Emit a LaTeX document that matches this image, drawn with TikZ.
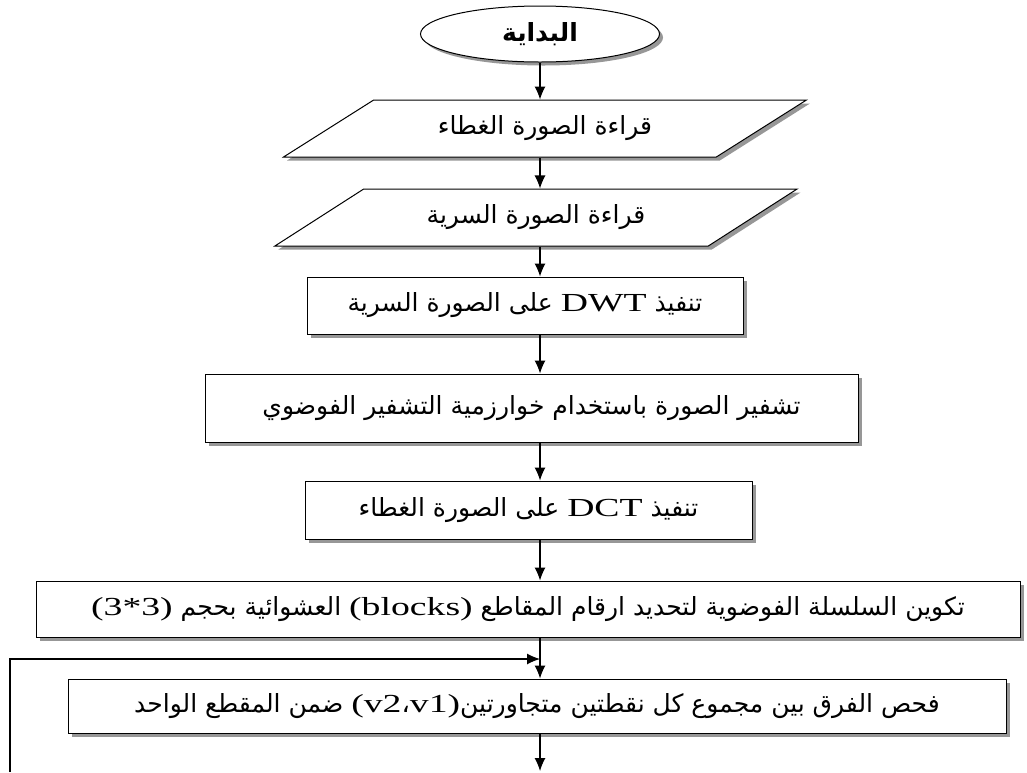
\documentclass[tikz,border=0pt]{standalone}
\usepackage{fontspec}
\setmainfont{Liberation Serif}
\newfontfamily\arabicfont[Script=Arabic]{DejaVu Sans}
\newfontfamily\latinfont[FakeStretch=1.45]{Liberation Serif}
\TeXXeTstate=1
\usepackage{tikz}
\usetikzlibrary{shapes.geometric, arrows.meta, shadows, positioning}
\newcommand{\artxt}[1]{{\arabicfont\beginR #1\endR}}
\newcommand{\lat}[1]{\beginL{\latinfont\fontsize{26}{30}\selectfont #1}\endL}
\tikzstyle{shadowed} = [drop shadow={shadow xshift=3.5pt,shadow yshift=-3.5pt,fill=black!45,opacity=0.9}]
\tikzstyle{startstop} = [ellipse, draw, fill=white, line width=1pt, minimum width=239pt, minimum height=56pt, inner sep=0pt, shadowed]
\tikzstyle{io} = [trapezium, trapezium left angle=24, trapezium right angle=156, trapezium stretches=true, draw, fill=white, line width=1pt, minimum width=524pt, minimum height=57pt, inner sep=0pt, shadowed]
\tikzstyle{process} = [rectangle, draw, fill=white, line width=1pt, inner sep=0pt, shadowed]
\tikzstyle{arrow} = [line width=1.1pt,-{Latex[length=13pt,width=11pt]}]

\begin{document}
\begin{tikzpicture}[x=1pt, y=-1pt, font=\fontsize{25}{30}\selectfont]
\useasboundingbox (0,0) rectangle (1027,772);
\node [startstop] (start) at (540,34) {\artxt{\bfseries البداية}};
\node [io] (cover) at (545,128.5) {\artxt{قراءة الصورة الغطاء}};
\node [io] (secret) at (536,217.5) {\artxt{قراءة الصورة السرية}};
\node [process, minimum width=436pt, minimum height=57pt] (dwt) at (525,305.5) {\artxt{تنفيذ \lat{DWT} على الصورة السرية}};
\node [process, minimum width=653pt, minimum height=68pt] (chaos) at (531.5,408) {\artxt{تشفير الصورة باستخدام خوارزمية التشفير الفوضوي}};
\node [process, minimum width=447pt, minimum height=58pt] (dct) at (528.5,510) {\artxt{تنفيذ \lat{DCT} على الصورة الغطاء}};
\node [process, minimum width=984pt, minimum height=56pt] (blocks) at (528,609) {\artxt{تكوين السلسلة الفوضوية لتحديد ارقام المقاطع \lat{(blocks)} العشوائية بحجم \lat{(3*3)}}};
\node [process, minimum width=938pt, minimum height=54pt] (check) at (537,706) {\artxt{فحص الفرق بين مجموع كل نقطتين متجاورتين\lat{(v2{\arabicfont ،}v1)} ضمن المقطع الواحد}};
\coordinate (spine) at (540,0);
\coordinate (join) at (540,659);
\coordinate (loopbot) at (10,772);
\coordinate (exit) at (540,771);
\draw [arrow] (start.south) -- (spine |- cover.north);
\draw [arrow] (spine |- cover.south) -- (spine |- secret.north);
\draw [arrow] (spine |- secret.south) -- (spine |- dwt.north);
\draw [arrow] (spine |- dwt.south) -- (spine |- chaos.north);
\draw [arrow] (spine |- chaos.south) -- (spine |- dct.north);
\draw [arrow] (spine |- dct.south) -- (spine |- blocks.north);
\draw [arrow] (spine |- blocks.south) -- (spine |- check.north);
\draw [arrow] (loopbot) |- (join);
\draw [arrow] (spine |- check.south) -- (exit);
\end{tikzpicture}
\end{document}
